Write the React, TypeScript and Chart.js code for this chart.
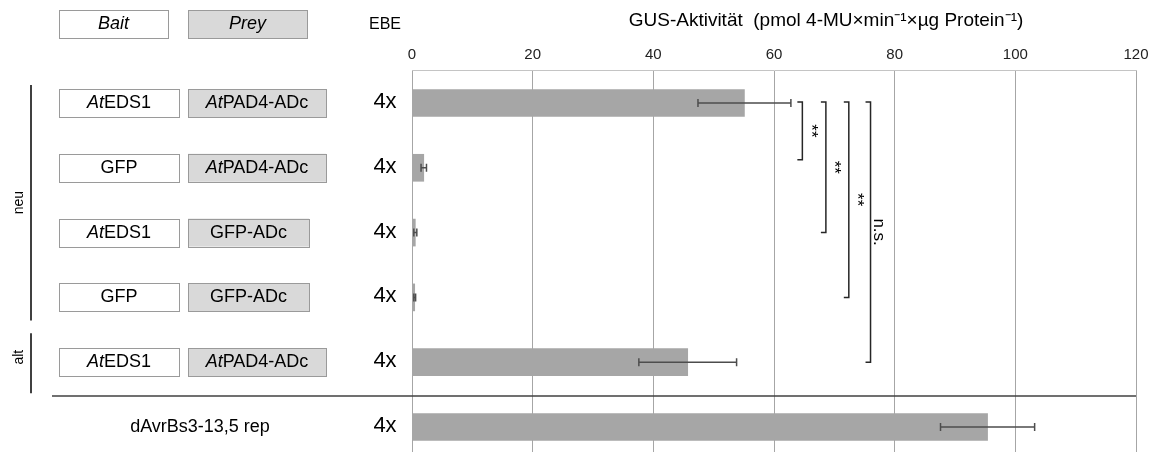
import React, { useEffect, useRef } from "react";
import { Chart, registerables } from "chart.js";

Chart.register(...registerables);

// ---------- data ----------
const baitLabels = ["_At_EDS1", "GFP", "_At_EDS1", "GFP", "_At_EDS1", ""];
const preyLabels = ["_At_PAD4-ADc", "_At_PAD4-ADc", "GFP-ADc", "GFP-ADc", "_At_PAD4-ADc", ""];
const controlLabels = ["", "", "", "", "", "dAvrBs3-13,5 rep"];
const ebeLabels = ["4x", "4x", "4x", "4x", "4x", "4x"];
const gusMeans = [55.1, 1.95, 0.55, 0.45, 45.7, 95.4];
const gusErrors = [7.7, 0.45, 0.25, 0.15, 8.1, 7.8];
const xMin = 0;
const xMax = 120;
const xStep = 20;
const headerLabels = ["_Bait_", "_Prey_", "EBE"];
const axisTitle = "GUS-Aktivität  (pmol 4-MU×min⁻¹×µg Protein⁻¹)";
const groupNames = ["neu", "alt"];
const groupFrom = [0, 4];
const groupTo = [3, 4];
const sigFrom = [0, 0, 0, 0];
const sigTo = [1, 2, 3, 4];
const sigLabels = ["**", "**", "**", "n.s."];

// ---------- layout (not data) ----------
const W = 1159;
const H = 452;
const FONT = '"Liberation Sans", Arial, sans-serif';
const bracketAt = [64.7, 68.6, 72.4, 76.0];
const preyBoxW = [138, 138, 121, 121, 138, 0];

function parseSegs(s: string) {
  const parts = s.split("_");
  const segs: { t: string; i: boolean }[] = [];
  parts.forEach((p, idx) => {
    if (p.length) segs.push({ t: p, i: idx % 2 === 1 });
  });
  return segs;
}

function drawRich(ctx: CanvasRenderingContext2D, s: string, cx: number, cy: number, size: number, color = "#000") {
  const segs = parseSegs(s);
  let total = 0;
  const widths: number[] = [];
  segs.forEach((sg) => {
    ctx.font = `${sg.i ? "italic " : ""}${size}px ${FONT}`;
    const w = ctx.measureText(sg.t).width;
    widths.push(w);
    total += w;
  });
  let x = cx - total / 2;
  ctx.fillStyle = color;
  ctx.textBaseline = "middle";
  ctx.textAlign = "left";
  segs.forEach((sg, k) => {
    ctx.font = `${sg.i ? "italic " : ""}${size}px ${FONT}`;
    ctx.fillText(sg.t, x, cy);
    x += widths[k];
  });
}

function box(ctx: CanvasRenderingContext2D, x: number, y: number, w: number, h: number, fill: string) {
  ctx.fillStyle = fill;
  ctx.fillRect(x, y, w, h);
  ctx.strokeStyle = "#9a9a9a";
  ctx.lineWidth = 1;
  ctx.strokeRect(Math.round(x) + 0.5, Math.round(y) + 0.5, Math.round(w), Math.round(h));
}

const errorBarPlugin = {
  id: "errorBars",
  afterDatasetsDraw(chart: any) {
    const { ctx } = chart;
    const xs = chart.scales.x;
    const ys = chart.scales.y;
    ctx.save();
    ctx.strokeStyle = "#4d4d4d";
    ctx.lineWidth = 1.5;
    gusMeans.forEach((m, i) => {
      const y = ys.getPixelForValue(i);
      const x1 = xs.getPixelForValue(m - gusErrors[i]);
      const x2 = xs.getPixelForValue(m + gusErrors[i]);
      ctx.beginPath();
      ctx.moveTo(x1, y);
      ctx.lineTo(x2, y);
      ctx.moveTo(x1, y - 4);
      ctx.lineTo(x1, y + 4);
      ctx.moveTo(x2, y - 4);
      ctx.lineTo(x2, y + 4);
      ctx.stroke();
    });
    ctx.restore();
  },
};

const decorPlugin = {
  id: "decor",
  afterDraw(chart: any) {
    const { ctx } = chart;
    const xs = chart.scales.x;
    const ys = chart.scales.y;
    const area = chart.chartArea;
    ctx.save();

    // header
    box(ctx, 59, 10, 109, 28, "#ffffff");
    drawRich(ctx, headerLabels[0], 59 + 109 / 2, 24, 18);
    box(ctx, 188, 10, 119, 28, "#d9d9d9");
    drawRich(ctx, headerLabels[1], 188 + 119 / 2, 24, 18);
    drawRich(ctx, headerLabels[2], 385, 25, 16);

    // axis title
    ctx.font = `19px ${FONT}`;
    ctx.fillStyle = "#000";
    ctx.textAlign = "center";
    ctx.textBaseline = "middle";
    ctx.fillText(axisTitle, 826, 21);

    // rows
    baitLabels.forEach((b, i) => {
      const y = ys.getPixelForValue(i);
      if (b) {
        box(ctx, 59, y - 14, 120, 28, "#ffffff");
        drawRich(ctx, b, 59 + 60, y, 18);
      }
      const p = preyLabels[i];
      if (p) {
        box(ctx, 188, y - 14, preyBoxW[i], 28, "#d9d9d9");
        drawRich(ctx, p, 188 + preyBoxW[i] / 2, y, 18);
      }
      if (controlLabels[i]) drawRich(ctx, controlLabels[i], 200, y, 18);
      drawRich(ctx, ebeLabels[i], 385, y - 1, 22);
    });

    // separator between groups and control
    const sepY = (ys.getPixelForValue(4) + ys.getPixelForValue(5)) / 2 + 1.5;
    ctx.strokeStyle = "#404040";
    ctx.lineWidth = 1.5;
    ctx.beginPath();
    ctx.moveTo(52, sepY);
    ctx.lineTo(area.right, sepY);
    ctx.stroke();

    // group lines
    groupNames.forEach((g, k) => {
      const yTop = ys.getPixelForValue(groupFrom[k]) - (k === 0 ? 18 : 29);
      const yBot = ys.getPixelForValue(groupTo[k]) + (k === 0 ? 23 : 31);
      ctx.strokeStyle = "#000";
      ctx.lineWidth = 1.5;
      ctx.beginPath();
      ctx.moveTo(31, yTop);
      ctx.lineTo(31, yBot);
      ctx.stroke();
      ctx.save();
      ctx.translate(19, (yTop + yBot) / 2 - (k === 1 ? 6 : 0));
      ctx.rotate(-Math.PI / 2);
      ctx.font = `14px ${FONT}`;
      ctx.fillStyle = "#000";
      ctx.textAlign = "center";
      ctx.textBaseline = "middle";
      ctx.fillText(g, 0, 0);
      ctx.restore();
    });

    // significance brackets
    sigLabels.forEach((lab, k) => {
      const px = xs.getPixelForValue(bracketAt[k]);
      const y1 = ys.getPixelForValue(sigFrom[k]) - 1;
      const y2 = ys.getPixelForValue(sigTo[k]) - (k === 0 ? 8 : 0);
      ctx.strokeStyle = "#262626";
      ctx.lineWidth = 1.5;
      ctx.beginPath();
      ctx.moveTo(px - 5, y1);
      ctx.lineTo(px, y1);
      ctx.lineTo(px, y2);
      ctx.lineTo(px - 5, y2);
      ctx.stroke();
      ctx.save();
      ctx.translate(px + 8, (y1 + y2) / 2);
      ctx.rotate(Math.PI / 2);
      ctx.font = `${lab === "n.s." ? 17 : 17}px ${FONT}`;
      ctx.fillStyle = "#000";
      ctx.textAlign = "center";
      ctx.textBaseline = "middle";
      ctx.fillText(lab, 0, 0);
      ctx.restore();
    });

    ctx.restore();
  },
};

export default function App() {
  const ref = useRef<HTMLCanvasElement | null>(null);
  useEffect(() => {
    if (!ref.current) return;
    const chart = new Chart(ref.current, {
      type: "bar",
      data: {
        datasets: [
          {
            data: gusMeans.map((v, i) => ({ x: v, y: i })),
            backgroundColor: "#a6a6a6",
            borderWidth: 0,
            barThickness: 27,
          },
        ],
      },
      options: {
        indexAxis: "y",
        animation: false,
        responsive: false,
        devicePixelRatio: 1,
        layout: { padding: { left: 412, right: 23, top: 0, bottom: 0 } },
        plugins: { legend: { display: false }, tooltip: { enabled: false } },
        scales: {
          x: {
            type: "linear",
            position: "top",
            min: xMin,
            max: xMax,
            afterFit: (s: any) => {
              s.height = 70;
            },
            ticks: {
              stepSize: xStep,
              padding: 6,
              color: "#222",
              font: { family: FONT, size: 15 },
            },
            grid: { color: "#a6a6a6", lineWidth: 1, drawTicks: false },
            border: { display: true, color: "#c4c4c4", width: 1 },
          },
          y: {
            type: "linear",
            display: false,
            reverse: true,
            offset: false,
            min: -0.509,
            max: 5.386,
          },
        },
      },
      plugins: [errorBarPlugin, decorPlugin],
    } as any);
    return () => chart.destroy();
  }, []);
  return (
    <div style={{ position: "fixed", left: 0, top: 0, width: W, height: H, background: "#fff" }}>
      <canvas ref={ref} width={W} height={H} />
    </div>
  );
}
